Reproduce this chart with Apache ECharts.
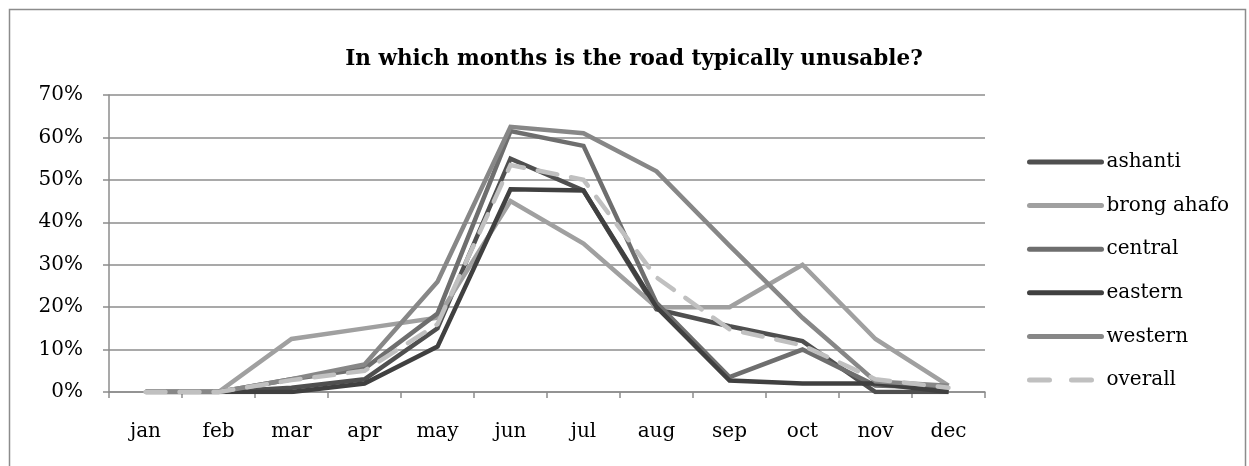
<!DOCTYPE html>
<html>
<head>
<meta charset="utf-8">
<script src="https://cdn.jsdelivr.net/npm/echarts@6/dist/echarts.min.js"></script>
<style>
  html, body { margin: 0; padding: 0; background: #fff; }
  #chart { width: 1249px; height: 466px; }
</style>
</head>
<body>
<div id="chart"></div>
<script>
// Share of respondents (%) reporting the road unusable, by month and region
const months = ['jan', 'feb', 'mar', 'apr', 'may', 'jun', 'jul', 'aug', 'sep', 'oct', 'nov', 'dec'];
const ashanti    = [0, 0, 1,    3,   15,   55,   47.5, 19.5, 15.5, 12,   0,    0];
const brongAhafo = [0, 0, 12.5, 15,  17.5, 45,   35,   20,   20,   30,   12.5, 1.5];
const central    = [0, 0, 3,    5.5, 18.5, 61.5, 58,   21,   3.5,  10,   1.5,  1];
const eastern    = [0, 0, 0,    2,   10.7, 47.8, 47.5, 20,   2.7,  2,    2,    0];
const western    = [0, 0, 3,    6.5, 26,   62.5, 61,   52,   34.5, 17.5, 2.5,  1.5];
const overall    = [0, 0, 2.8,  5,   16,   53.5, 50,   27,   14.8, 11,   3,    1];
const yTicks = [0, 10, 20, 30, 40, 50, 60, 70];

const FONT = 'DejaVu Serif';
const AXIS_GRAY = '#8c8c8c';

function lineSeries(name, data, color, dashed) {
  return {
    name: name,
    type: 'line',
    data: data,
    symbol: 'none',
    smooth: false,
    lineStyle: {
      color: color,
      width: 4.5,
      type: dashed ? [20, 14] : 'solid',
      cap: dashed ? 'round' : 'butt',
      join: 'miter'
    },
    itemStyle: { color: color },
    emphasis: { disabled: true }
  };
}

const chart = echarts.init(document.getElementById('chart'), null, { renderer: 'canvas' });
chart.setOption({
  animation: false,
  backgroundColor: '#ffffff',
  title: {
    text: 'In which months is the road typically unusable?',
    left: 629,
    top: 43,
    textAlign: 'center',
    textStyle: { fontFamily: FONT, fontWeight: 'bold', fontSize: 21.5, color: '#000' }
  },
  graphic: [{
    type: 'rect',
    shape: { x: 9.5, y: 9.5, width: 1236, height: 480 },
    style: { fill: 'none', stroke: '#8c8c8c', lineWidth: 1.5 },
    silent: true,
    z: -1
  }],
  legend: {
    orient: 'vertical',
    left: 1022,
    top: 147,
    itemWidth: 72,
    itemHeight: 20,
    itemGap: 23.6,
    itemStyle: { opacity: 0 },
    lineStyle: { width: 5, cap: 'round', inactiveWidth: 5 },
    textStyle: { fontFamily: FONT, fontSize: 20, color: '#000' },
    data: [
      'ashanti', 'brong ahafo', 'central', 'eastern', 'western',
      { name: 'overall', lineStyle: { type: [20, 22], cap: 'round', width: 5 } }
    ]
  },
  grid: { left: 109, right: 264, top: 95, bottom: 74, containLabel: false },
  xAxis: {
    type: 'category',
    data: months,
    boundaryGap: true,
    axisLine: { show: true, lineStyle: { color: AXIS_GRAY, width: 1.5 } },
    axisTick: { show: true, length: 6, lineStyle: { color: AXIS_GRAY, width: 1.5 } },
    axisLabel: { margin: 30, fontFamily: FONT, fontSize: 20, color: '#000' },
    splitLine: { show: false }
  },
  yAxis: {
    type: 'value',
    min: 0,
    max: 70,
    interval: 10,
    axisLine: { show: true, lineStyle: { color: AXIS_GRAY, width: 1.5 } },
    axisTick: { show: true, length: 6, lineStyle: { color: AXIS_GRAY, width: 1.5 } },
    axisLabel: {
      margin: 26,
      fontFamily: FONT,
      fontSize: 20,
      color: '#000',
      formatter: function (v) { return yTicks.indexOf(v) >= 0 ? v + '%' : ''; }
    },
    splitLine: { show: true, lineStyle: { color: AXIS_GRAY, width: 1.5 } }
  },
  series: [
    lineSeries('ashanti', ashanti, '#4f4f4f', false),
    lineSeries('brong ahafo', brongAhafo, '#a0a0a0', false),
    lineSeries('central', central, '#6e6e6e', false),
    lineSeries('eastern', eastern, '#404040', false),
    lineSeries('western', western, '#878787', false),
    lineSeries('overall', overall, '#c0c0c0', true)
  ]
});
</script>
</body>
</html>
